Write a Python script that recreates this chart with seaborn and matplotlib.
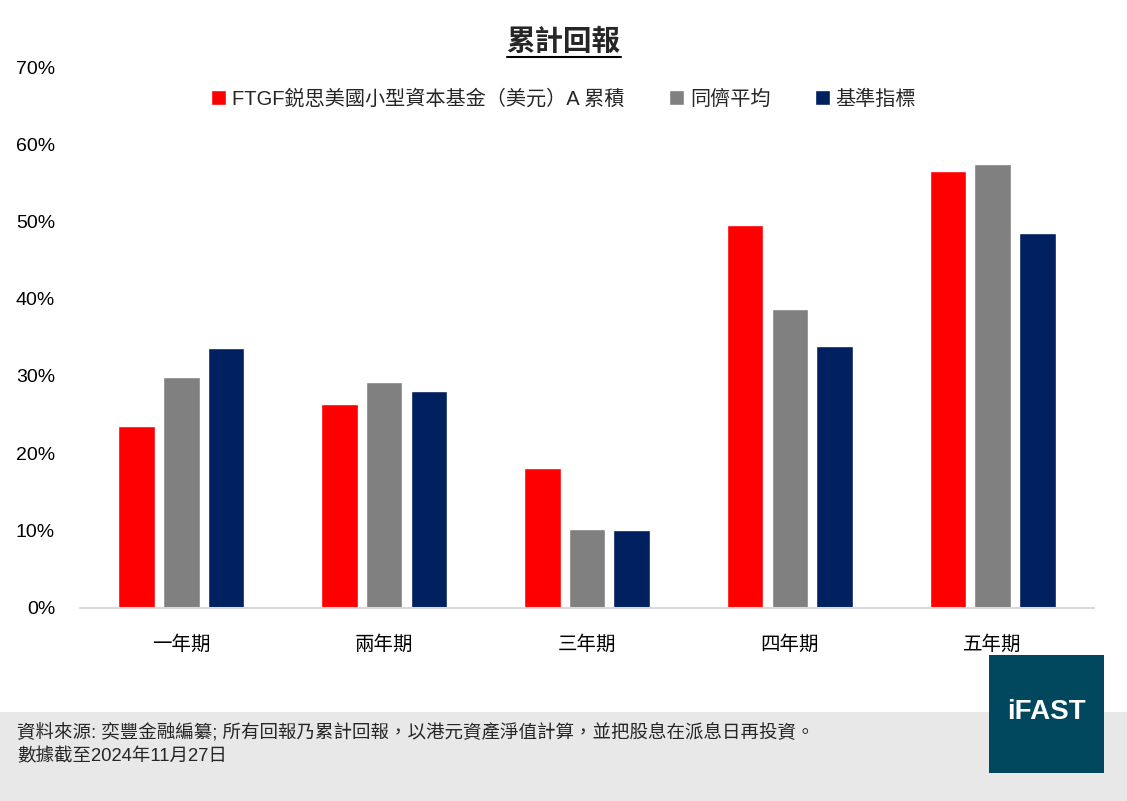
import pandas as pd
import matplotlib
matplotlib.use('Agg')
import matplotlib.pyplot as plt
from matplotlib.patches import Rectangle
from matplotlib.lines import Line2D
from matplotlib.ticker import FuncFormatter, MultipleLocator
import seaborn as sns

sns.set_style("white")
plt.rcParams['font.family'] = ['Liberation Sans', 'Noto Sans CJK TC', 'DejaVu Sans']

# -------------------------------
# data (cumulative return, %)
# -------------------------------
periods = ['一年期', '兩年期', '三年期', '四年期', '五年期']
series_names = ['FTGF鋭思美國小型資本基金（美元）A 累積', '同儕平均', '基準指標']
fund = [23.5, 26.4, 18.1, 49.5, 56.5]
peer = [29.8, 29.2, 10.2, 38.7, 57.4]
bench = [33.6, 28.1, 10.0, 33.9, 48.5]
colors = ['#FF0000', '#808080', '#002060']

df = pd.DataFrame({
    'period': periods * 3,
    'series': [series_names[0]] * 5 + [series_names[1]] * 5 + [series_names[2]] * 5,
    'value': fund + peer + bench,
})

fig = plt.figure(figsize=(11.27, 8.01), dpi=100)
ax = fig.add_axes([80 / 1127, 1 - 607.5 / 801, 1014 / 1127, 540.5 / 801])

sns.barplot(data=df, x='period', y='value', hue='series', order=periods,
            hue_order=series_names, palette=colors, width=0.66, gap=0.18,
            saturation=1, ax=ax)

ax.set_ylim(0, 70)
ax.set_xlim(-0.5, 4.5)
ax.yaxis.set_major_locator(MultipleLocator(10))
ax.yaxis.set_major_formatter(FuncFormatter(lambda v, p: f'{v:.0f}%'))
ax.set_xlabel('')
ax.set_ylabel('')
for s in ['top', 'right', 'left']:
    ax.spines[s].set_visible(False)
ax.spines['bottom'].set_color('#d9d9d9')
ax.spines['bottom'].set_linewidth(1.5)
ax.tick_params(axis='y', length=0, pad=18, labelsize=14, labelcolor='#000000')
ax.tick_params(axis='x', length=0, pad=20, labelsize=14, labelcolor='#000000')

# legend
handles, labels = ax.get_legend_handles_labels()
ax.legend(handles, labels, loc='center', bbox_to_anchor=(0.5, 1 - 99 / 801),
          bbox_transform=fig.transFigure, ncol=3, frameon=False, fontsize=14.5,
          handlelength=0.75, handleheight=0.75, handletextpad=0.3,
          columnspacing=2.2)

# title with underline
title = fig.text(0.5, 1 - 42 / 801, '累計回報', ha='center', va='center',
                 fontsize=20.5, fontweight='bold')
fig.canvas.draw()
bb = title.get_window_extent().transformed(fig.transFigure.inverted())
fig.lines.append(Line2D([bb.x0, bb.x1], [bb.y0 - 0.002, bb.y0 - 0.002],
                        transform=fig.transFigure, color='black', linewidth=1.5))

# footer band
fig.patches.append(Rectangle((0, 0), 1, (801 - 712) / 801, transform=fig.transFigure,
                             facecolor='#e8e8e8', edgecolor='none', zorder=0))
fig.text(17 / 1127, 1 - 732 / 801,
         '資料來源: 奕豐金融編纂; 所有回報乃累計回報，以港元資產淨值計算，並把股息在派息日再投資。',
         ha='left', va='center', fontsize=13.3)
fig.text(17 / 1127, 1 - 757 / 801, '數據截至2024年11月27日',
         ha='left', va='center', fontsize=13.3)

# logo box
fig.patches.append(Rectangle((989 / 1127, 1 - 773 / 801), 115 / 1127, 118 / 801,
                             transform=fig.transFigure, facecolor='#01485E',
                             edgecolor='none', zorder=2))
fig.text(1046.5 / 1127, 1 - 712 / 801, 'iFAST', ha='center', va='center',
         fontsize=20, fontweight='bold', color='white', zorder=3)

fig.savefig('out.png', dpi=100)
